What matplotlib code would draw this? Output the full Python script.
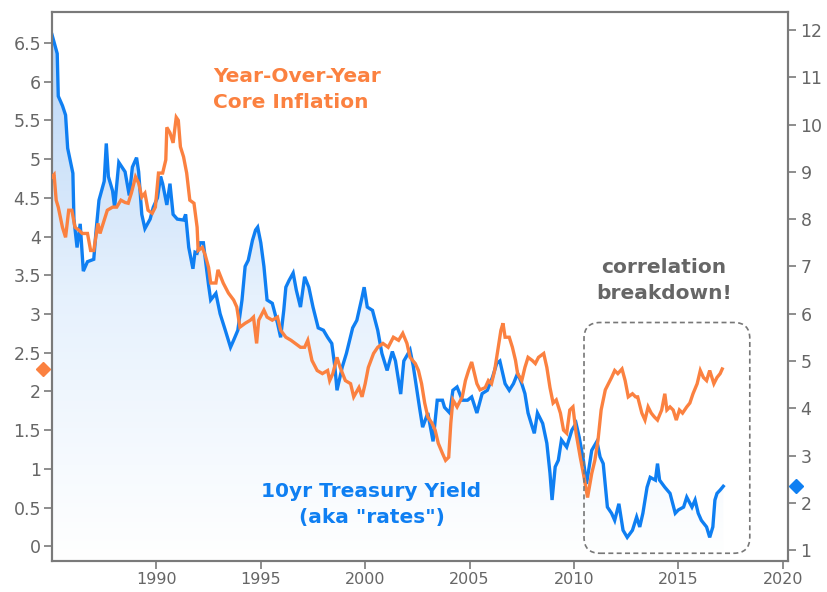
import numpy as np
import matplotlib
matplotlib.use("Agg")
import matplotlib.pyplot as plt
from matplotlib.colors import LinearSegmentedColormap
from matplotlib.patches import FancyBboxPatch

# 10yr treasury yield (right axis)
yield_years = [1985.0, 1985.25, 1985.3, 1985.5, 1985.65, 1985.75, 1986.0, 1986.05, 1986.2, 1986.35,
               1986.5, 1986.7, 1987.0, 1987.1, 1987.25, 1987.5, 1987.6, 1987.7, 1987.9, 1988.0,
               1988.2, 1988.5, 1988.7, 1988.85, 1989.05, 1989.15, 1989.3, 1989.45, 1989.7, 1989.85,
               1990.05, 1990.2, 1990.3, 1990.5, 1990.65, 1990.8, 1991.0, 1991.3, 1991.4, 1991.55,
               1991.75, 1991.85, 1991.95, 1992.1, 1992.25, 1992.35, 1992.5, 1992.6, 1992.85, 1993.05,
               1993.3, 1993.55, 1993.7, 1993.9, 1994.1, 1994.25, 1994.4, 1994.6, 1994.75, 1994.85,
               1995.0, 1995.15, 1995.3, 1995.55, 1995.8, 1995.95, 1996.1, 1996.2, 1996.35, 1996.55,
               1996.7, 1996.9, 1997.1, 1997.3, 1997.5, 1997.75, 1998.0, 1998.2, 1998.4, 1998.55,
               1998.65, 1998.9, 1999.1, 1999.4, 1999.6, 1999.85, 1999.95, 2000.1, 2000.35, 2000.6,
               2000.8, 2001.05, 2001.3, 2001.45, 2001.7, 2001.85, 2002.15, 2002.3, 2002.6, 2002.75,
               2003.0, 2003.25, 2003.45, 2003.7, 2003.8, 2004.05, 2004.2, 2004.4, 2004.65, 2004.9,
               2005.1, 2005.35, 2005.6, 2005.85, 2006.1, 2006.3, 2006.45, 2006.7, 2006.9, 2007.1,
               2007.3, 2007.5, 2007.65, 2007.8, 2007.95, 2008.1, 2008.25, 2008.5, 2008.7, 2008.85,
               2008.95, 2009.1, 2009.25, 2009.4, 2009.65, 2009.9, 2010.1, 2010.25, 2010.45, 2010.6,
               2010.85, 2011.1, 2011.25, 2011.4, 2011.6, 2011.8, 2011.95, 2012.15, 2012.35, 2012.55,
               2012.8, 2013.0, 2013.15, 2013.3, 2013.5, 2013.65, 2013.9, 2014.0, 2014.1, 2014.35,
               2014.6, 2014.85, 2015.0, 2015.25, 2015.4, 2015.65, 2015.8, 2015.95, 2016.1, 2016.35,
               2016.5, 2016.65, 2016.75, 2016.85, 2017.0, 2017.15]
yield_vals = [11.9, 11.5, 10.6, 10.4, 10.2, 9.5, 8.97, 8.0, 7.4, 7.9,
              6.9, 7.1, 7.15, 7.7, 8.4, 8.8, 9.6, 8.9, 8.6, 8.25,
              9.2, 9.0, 8.5, 9.1, 9.3, 9.0, 8.1, 7.8, 8.0, 8.25,
              8.45, 8.9, 8.75, 8.3, 8.75, 8.1, 8.0, 7.98, 8.1, 7.4,
              6.95, 7.3, 7.28, 7.5, 7.5, 7.13, 6.6, 6.29, 6.43, 6.0,
              5.65, 5.29, 5.44, 5.65, 6.29, 7.0, 7.13, 7.55, 7.77, 7.83,
              7.5, 7.0, 6.29, 6.22, 5.8, 5.5, 6.07, 6.56, 6.7, 6.86,
              6.5, 6.14, 6.78, 6.56, 6.14, 5.7, 5.65, 5.5, 5.37, 4.87,
              4.38, 4.87, 5.16, 5.7, 5.86, 6.35, 6.56, 6.14, 6.07, 5.65,
              5.16, 4.8, 5.2, 5.0, 4.3, 5.0, 5.23, 4.9, 4.02, 3.6,
              3.9, 3.3, 4.17, 4.17, 4.02, 3.9, 4.38, 4.45, 4.17, 4.17,
              4.24, 3.9, 4.31, 4.38, 4.66, 4.95, 5.0, 4.52, 4.38, 4.52,
              4.74, 4.52, 4.31, 3.9, 3.68, 3.47, 3.9, 3.68, 3.26, 2.63,
              2.06, 2.76, 2.9, 3.33, 3.18, 3.54, 3.68, 3.39, 2.9, 2.4,
              3.11, 3.3, 2.97, 2.83, 1.91, 1.78, 1.63, 1.98, 1.42, 1.27,
              1.42, 1.7, 1.49, 1.78, 2.33, 2.54, 2.48, 2.83, 2.48, 2.33,
              2.2, 1.78, 1.85, 1.91, 2.12, 1.91, 2.06, 1.78, 1.63, 1.49,
              1.27, 1.49, 2.06, 2.2, 2.27, 2.35]

# year-over-year core inflation (left axis)
infl_years = [1985.0, 1985.1, 1985.2, 1985.3, 1985.5, 1985.65, 1985.8, 1985.95, 1986.1, 1986.3,
              1986.45, 1986.7, 1986.85, 1987.0, 1987.2, 1987.3, 1987.5, 1987.65, 1987.9, 1988.1,
              1988.3, 1988.5, 1988.65, 1988.8, 1989.0, 1989.15, 1989.3, 1989.45, 1989.6, 1989.8,
              1989.95, 1990.1, 1990.3, 1990.45, 1990.5, 1990.65, 1990.8, 1990.95, 1991.05, 1991.15,
              1991.3, 1991.45, 1991.6, 1991.8, 1991.95, 1992.0, 1992.2, 1992.35, 1992.5, 1992.6,
              1992.85, 1992.95, 1993.2, 1993.45, 1993.7, 1993.85, 1994.0, 1994.25, 1994.5, 1994.65,
              1994.8, 1994.9, 1995.15, 1995.3, 1995.55, 1995.8, 1995.95, 1996.2, 1996.45, 1996.65,
              1996.9, 1997.1, 1997.25, 1997.45, 1997.7, 1997.95, 1998.2, 1998.3, 1998.45, 1998.65,
              1998.8, 1999.05, 1999.3, 1999.45, 1999.7, 1999.85, 2000.0, 2000.15, 2000.4, 2000.6,
              2000.85, 2001.1, 2001.35, 2001.6, 2001.8, 2002.0, 2002.15, 2002.4, 2002.55, 2002.7,
              2002.85, 2003.0, 2003.2, 2003.35, 2003.5, 2003.7, 2003.85, 2004.0, 2004.1, 2004.2,
              2004.4, 2004.65, 2004.8, 2004.95, 2005.1, 2005.2, 2005.35, 2005.5, 2005.75, 2005.9,
              2006.05, 2006.2, 2006.35, 2006.5, 2006.6, 2006.7, 2006.9, 2007.05, 2007.2, 2007.3,
              2007.5, 2007.65, 2007.8, 2008.0, 2008.15, 2008.3, 2008.55, 2008.7, 2008.85, 2009.0,
              2009.15, 2009.35, 2009.5, 2009.65, 2009.8, 2009.95, 2010.1, 2010.3, 2010.45, 2010.65,
              2010.85, 2011.0, 2011.15, 2011.3, 2011.5, 2011.65, 2011.8, 2011.95, 2012.1, 2012.3,
              2012.45, 2012.6, 2012.8, 2012.95, 2013.05, 2013.25, 2013.4, 2013.55, 2013.7, 2013.85,
              2014.0, 2014.2, 2014.35, 2014.45, 2014.6, 2014.75, 2014.9, 2015.05, 2015.2, 2015.4,
              2015.55, 2015.7, 2015.9, 2016.05, 2016.2, 2016.35, 2016.5, 2016.7, 2016.85, 2017.0,
              2017.1]
infl_vals = [4.77, 4.8, 4.47, 4.38, 4.12, 3.99, 4.34, 4.34, 4.12, 4.08,
             4.04, 4.04, 3.82, 3.82, 4.17, 4.04, 4.21, 4.34, 4.38, 4.38,
             4.47, 4.44, 4.43, 4.56, 4.77, 4.69, 4.51, 4.56, 4.34, 4.3,
             4.38, 4.82, 4.82, 4.99, 5.41, 5.34, 5.21, 5.54, 5.5, 5.16,
             5.03, 4.82, 4.47, 4.43, 4.12, 3.82, 3.86, 3.75, 3.6, 3.4,
             3.4, 3.57, 3.4, 3.27, 3.18, 3.09, 2.83, 2.88, 2.92, 2.96,
             2.62, 2.92, 3.05, 2.96, 2.92, 2.96, 2.79, 2.7, 2.66, 2.62,
             2.57, 2.57, 2.66, 2.4, 2.27, 2.23, 2.27, 2.14, 2.23, 2.44,
             2.31, 2.14, 2.1, 1.93, 2.05, 1.93, 2.1, 2.31, 2.49, 2.57,
             2.62, 2.57, 2.7, 2.66, 2.75, 2.62, 2.44, 2.36, 2.27, 2.1,
             1.85, 1.67, 1.59, 1.5, 1.33, 1.2, 1.11, 1.15, 1.59, 1.89,
             1.8, 1.93, 2.14, 2.27, 2.38, 2.27, 2.1, 2.02, 2.05, 2.14,
             2.1, 2.27, 2.53, 2.79, 2.88, 2.7, 2.7, 2.57, 2.4, 2.23,
             2.14, 2.31, 2.44, 2.4, 2.36, 2.44, 2.49, 2.31, 2.05, 1.85,
             1.89, 1.72, 1.5, 1.46, 1.76, 1.8, 1.46, 1.15, 0.94, 0.63,
             0.94, 1.11, 1.37, 1.76, 2.02, 2.1, 2.18, 2.27, 2.23, 2.29,
             2.14, 1.93, 1.97, 1.93, 1.93, 1.72, 1.63, 1.8, 1.72, 1.67,
             1.63, 1.76, 1.97, 1.76, 1.8, 1.76, 1.63, 1.76, 1.72, 1.8,
             1.85, 1.97, 2.1, 2.27, 2.18, 2.14, 2.27, 2.1, 2.18, 2.23,
             2.29]

left_ticks = [0, 0.5, 1, 1.5, 2, 2.5, 3, 3.5, 4, 4.5, 5, 5.5, 6, 6.5]
right_ticks = list(range(1, 13))
year_ticks = [1990, 1995, 2000, 2005, 2010, 2015, 2020]

blue = "#0f7ff2"
orange = "#fb8140"
grey = "#666666"

fig = plt.figure(figsize=(8.27, 5.92), dpi=100)
ax = fig.add_axes([52 / 827, 31 / 592, 736 / 827, 549 / 592])
ax2 = ax.twinx()

x_lo, x_hi = 1985.0, 2020.25
r_lo, r_hi = 0.77, 12.38
l_lo, l_hi = -0.19, 6.9

ax.set_xlim(x_lo, x_hi)
ax.set_ylim(r_lo, r_hi)
ax2.set_ylim(l_lo, l_hi)

# yield on the main axes, ticks on the right
ax.yaxis.tick_right()
ax2.yaxis.tick_left()
ax2.yaxis.set_label_position("left")

# gradient area under the yield
poly = ax.fill_between(yield_years, yield_vals, r_lo, color="none", lw=0)
cmap = LinearSegmentedColormap.from_list("fade", ["#ffffff", "#e6f1fd", "#b8d5f6"])
grad = np.linspace(0, 1, 256).reshape(-1, 1)
img = ax.imshow(grad, cmap=cmap, aspect="auto", origin="lower",
                extent=[x_lo, x_hi, r_lo, 12.0], zorder=1)
img.set_clip_path(poly.get_paths()[0], transform=ax.transData)
ax.set_xlim(x_lo, x_hi)
ax.set_ylim(r_lo, r_hi)

ax.plot(yield_years, yield_vals, color=blue, lw=2.4, zorder=3, solid_joinstyle="miter")
ax2.plot(infl_years, infl_vals, color=orange, lw=2.4, zorder=3, solid_joinstyle="miter")

# last-value markers outside the axes
ax.plot([2020.65], [yield_vals[-1]], marker="D", ms=7, color=blue, clip_on=False)
ax2.plot([1984.55], [infl_vals[-1]], marker="D", ms=7, color=orange, clip_on=False)

ax.set_xticks(year_ticks)
ax.set_yticks(right_ticks)
ax2.set_yticks(left_ticks)
ax2.set_yticklabels([f"{t:g}" for t in left_ticks])

for a in (ax, ax2):
    for s in a.spines.values():
        s.set_color("#7a7a7a")
        s.set_linewidth(1.5)
ax.tick_params(axis="x", colors="#7a7a7a", labelcolor=grey, labelsize=11.5, length=6, width=1.2, pad=2)
ax.tick_params(axis="y", colors="#7a7a7a", labelcolor=grey, labelsize=12.5, length=6, width=1.2, pad=3)
ax2.tick_params(axis="y", colors="#7a7a7a", labelcolor=grey, labelsize=12.5, length=6, width=1.2, pad=2)

# annotations
ax2.text(1992.7, 5.9, "Year-Over-Year\nCore Inflation", color=orange, fontsize=14.5,
         fontweight="bold", ha="left", va="center", linespacing=1.5)
ax2.text(2000.3, 0.54, "10yr Treasury Yield\n(aka \"rates\")", color=blue, fontsize=14.5,
         fontweight="bold", ha="center", va="center", linespacing=1.5)
ax2.text(2014.3, 3.43, "correlation\nbreakdown!", color=grey, fontsize=14.5,
         fontweight="bold", ha="center", va="center", linespacing=1.5)

# dashed rounded box around the breakdown period
fig.canvas.draw()
p0 = ax2.transData.transform((2010.48, -0.09)) / fig.dpi
p1 = ax2.transData.transform((2018.42, 2.89)) / fig.dpi
box = FancyBboxPatch((p0[0], p0[1]), p1[0] - p0[0], p1[1] - p0[1],
                     boxstyle="round,pad=0,rounding_size=0.16",
                     transform=fig.dpi_scale_trans, fill=False,
                     edgecolor="#777777", lw=1.2, ls=(0, (3, 2)), zorder=5)
fig.patches.append(box)

fig.savefig("out.png", dpi=100)
